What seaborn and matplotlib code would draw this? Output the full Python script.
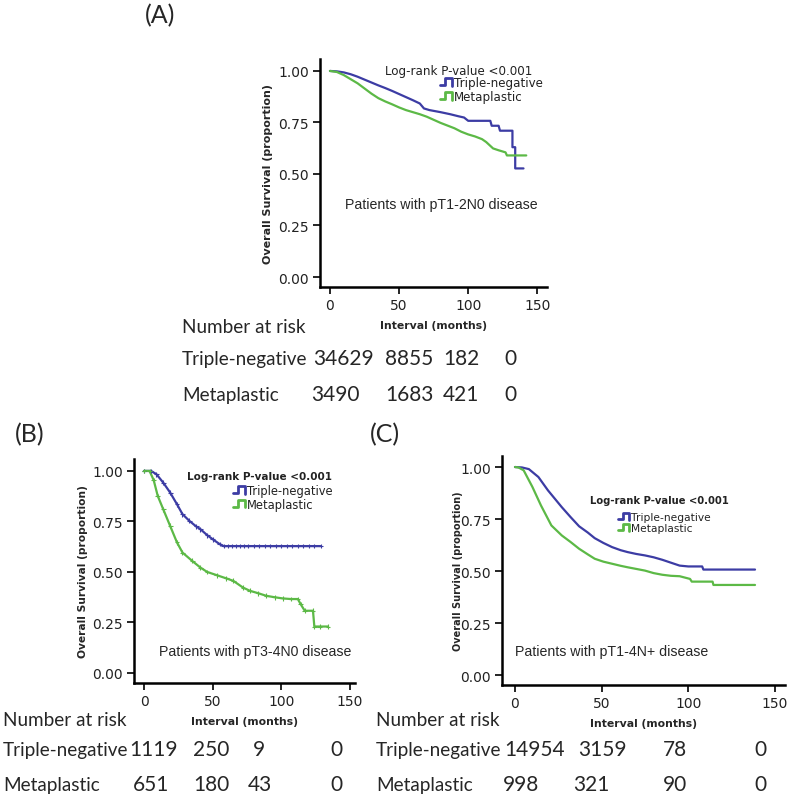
# Survival curves (Kaplan-Meier) - triple-negative vs metaplastic
import numpy as np
import pandas as pd
import matplotlib
matplotlib.use("Agg")
import matplotlib.pyplot as plt
import seaborn as sns
from matplotlib.legend_handler import HandlerBase
from matplotlib.lines import Line2D

# ---- data ----
# (A) pT1-2N0
a_tn_t = [0, 5, 10, 15, 20, 25, 30, 35, 40, 45, 50, 55, 60, 65, 68, 72, 80, 87, 93, 97, 100, 110, 116, 117, 122, 123, 132, 132, 134, 134, 140]
a_tn_s = [1.0, 0.998, 0.993, 0.984, 0.972, 0.958, 0.944, 0.930, 0.917, 0.903, 0.888, 0.873, 0.858, 0.842, 0.818, 0.81, 0.80, 0.79, 0.78, 0.774, 0.758, 0.758, 0.758, 0.734, 0.734, 0.71, 0.71, 0.63, 0.63, 0.527, 0.527]
a_mp_t = [0, 5, 10, 15, 20, 25, 30, 35, 40, 45, 50, 55, 60, 65, 70, 75, 80, 85, 90, 95, 100, 105, 110, 113, 118, 122, 127, 128, 142]
a_mp_s = [1.0, 0.995, 0.98, 0.96, 0.94, 0.915, 0.89, 0.868, 0.852, 0.838, 0.823, 0.81, 0.80, 0.79, 0.778, 0.763, 0.748, 0.735, 0.722, 0.705, 0.692, 0.682, 0.669, 0.655, 0.624, 0.615, 0.605, 0.59, 0.59]

# (B) pT3-4N0
b_tn_t = [0, 5, 9, 14, 19, 24, 28, 33, 38, 41, 46, 50, 55, 58, 61, 64, 67, 70, 73, 76, 80, 84, 88, 92, 96, 100, 104, 108, 112, 116, 120, 124, 128.5]
b_tn_s = [1.0, 1.0, 0.984, 0.942, 0.893, 0.835, 0.786, 0.753, 0.725, 0.712, 0.682, 0.662, 0.638, 0.628, 0.628, 0.628, 0.628, 0.628, 0.628, 0.628, 0.628, 0.628, 0.628, 0.628, 0.628, 0.628, 0.628, 0.628, 0.628, 0.628, 0.628, 0.628, 0.628]
b_mp_t = [0, 4, 7, 10, 14, 19, 24, 28, 35, 41, 46, 53, 60, 65, 72, 77, 83, 89, 95, 101, 107, 112, 114, 117, 123, 124, 128, 134]
b_mp_s = [1.0, 1.0, 0.955, 0.876, 0.81, 0.728, 0.646, 0.596, 0.555, 0.522, 0.5, 0.484, 0.468, 0.456, 0.423, 0.407, 0.395, 0.382, 0.375, 0.369, 0.366, 0.366, 0.341, 0.308, 0.308, 0.23, 0.23, 0.23]

# (C) pT1-4N+
c_tn_t = [0, 4, 8, 13.5, 19, 27, 32, 37, 42, 46, 51, 56, 61, 65, 70, 75, 80, 85, 90, 95, 100, 104, 108, 108.7, 138.5]
c_tn_s = [1.0, 0.998, 0.99, 0.952, 0.888, 0.807, 0.76, 0.715, 0.685, 0.658, 0.635, 0.615, 0.60, 0.591, 0.582, 0.575, 0.566, 0.554, 0.54, 0.526, 0.522, 0.522, 0.522, 0.507, 0.507]
c_mp_t = [0, 2, 5, 10, 15, 21, 27, 32, 37, 42, 46, 51, 56, 61, 65, 70, 75, 80, 85, 90, 95, 101, 102, 114, 114.5, 138.5]
c_mp_s = [1.0, 0.998, 0.984, 0.905, 0.815, 0.719, 0.671, 0.64, 0.607, 0.58, 0.559, 0.545, 0.535, 0.525, 0.518, 0.51, 0.502, 0.49, 0.482, 0.477, 0.475, 0.462, 0.449, 0.449, 0.433, 0.433]

groups = ["Triple-negative", "Metaplastic"]
a_risk_tn = ["34629", "8855", "182", "0"]
a_risk_mp = ["3490", "1683", "421", "0"]
b_risk_tn = ["1119", "250", "9", "0"]
b_risk_mp = ["651", "180", "43", "0"]
c_risk_tn = ["14954", "3159", "78", "0"]
c_risk_mp = ["998", "321", "90", "0"]

xticks = [0, 50, 100, 150]
yticks = [0, 0.25, 0.5, 0.75, 1.0]

BLUE = "#3C3CA4"
GREEN = "#5CB946"
W, H = 789, 804


def fx(px):
    return px / W


def fy(py):
    return 1 - py / H


class StepHandler(HandlerBase):
    # little step icon like in the original legend
    def create_artists(self, legend, orig_handle, xdescent, ydescent, width, height, fontsize, trans):
        x = np.array([0.0, 0.4, 0.4, 0.95, 0.95]) * width - xdescent
        y = np.array([0.1, 0.1, 0.95, 0.95, 0.05]) * height - ydescent
        ln = Line2D(x, y, color=orig_handle.get_color(), lw=2)
        ln.set_transform(trans)
        return [ln]


sns.set_style("ticks")
plt.rcParams["font.family"] = ["DejaVu Sans"]

fig = plt.figure(figsize=(W / 100, H / 100), dpi=100)

panels = [
    dict(rect=(320, 60, 547, 288), xlim=(-7.2, 157), ylim=(-0.0485, 1.058),
         tn=(a_tn_t, a_tn_s), mp=(a_mp_t, a_mp_s), marks=False,
         note="Patients with pT1-2N0 disease", note_xy=(345, 205),
         pval_xy=(385, 72), pval_bold=False, pval_fs=8.6,
         leg_xy=(440, 77), leg_fs=8.6, leg_sp=0.1,
         ylab_x=-0.229, ylab_fs=8.0, label="(A)", label_xy=(145, 16),
         risk=(a_risk_tn, a_risk_mp), risk_x=182,
         risk_cols=[(343, 335), (409, 409), (461, 461), (510, 510)],
         risk_y=(333, 365, 401)),
    dict(rect=(134, 460, 355, 684), xlim=(-7.3, 153.6), ylim=(-0.0495, 1.059),
         tn=(b_tn_t, b_tn_s), mp=(b_mp_t, b_mp_s), marks=True,
         note="Patients with pT3-4N0 disease", note_xy=(159, 652),
         pval_xy=(187, 477), pval_bold=True, pval_fs=7.5,
         leg_xy=(233, 485), leg_fs=8.3, leg_sp=0.05,
         ylab_x=-0.231, ylab_fs=7.7, label="(B)", label_xy=(15, 435),
         risk=(b_risk_tn, b_risk_mp), risk_x=3,
         risk_cols=[(154, 151), (211, 211), (259, 260), (336, 336)],
         risk_y=(726, 756, 791)),
    dict(rect=(502, 457, 785, 686), xlim=(-7.5, 155.8), ylim=(-0.048, 1.053),
         tn=(c_tn_t, c_tn_s), mp=(c_mp_t, c_mp_s), marks=False,
         note="Patients with pT1-4N+ disease", note_xy=(515, 652),
         pval_xy=(590, 501), pval_bold=True, pval_fs=7.2,
         leg_xy=(618, 513), leg_fs=7.7, leg_sp=0.1,
         ylab_x=-0.155, ylab_fs=7.0, label="(C)", label_xy=(370, 435),
         risk=(c_risk_tn, c_risk_mp), risk_x=376,
         risk_cols=[(535, 521), (602, 591), (675, 675), (760, 760)],
         risk_y=(726, 756, 791)),
]

for p in panels:
    l, t, r, b = p["rect"]
    ax = fig.add_axes([fx(l), fy(b), (r - l) / W, (b - t) / H])

    df = pd.concat([
        pd.DataFrame({"time": p["tn"][0], "survival": p["tn"][1], "group": groups[0]}),
        pd.DataFrame({"time": p["mp"][0], "survival": p["mp"][1], "group": groups[1]}),
    ], ignore_index=True)

    sns.lineplot(data=df, x="time", y="survival", hue="group", hue_order=groups,
                 palette=[BLUE, GREEN], estimator=None, sort=False, legend=False,
                 linewidth=1.6, ax=ax)
    if p["marks"]:
        # censoring ticks
        sns.scatterplot(data=df, x="time", y="survival", hue="group", hue_order=groups,
                        palette=[BLUE, GREEN], marker="+", s=12, linewidth=0.8,
                        legend=False, ax=ax, zorder=3)

    ax.set_xlim(*p["xlim"])
    ax.set_ylim(*p["ylim"])
    ax.set_xticks(xticks)
    ax.set_yticks(yticks)
    ax.set_yticklabels([f"{v:.2f}" for v in yticks])
    sns.despine(ax=ax)
    for s in ["left", "bottom"]:
        ax.spines[s].set_linewidth(1.8)
        ax.spines[s].set_color("black")
    ax.tick_params(length=5, width=1.2, labelsize=10, pad=3, colors="black")
    for lab in ax.get_xticklabels() + ax.get_yticklabels():
        lab.set_color("#222222")

    ax.set_xlabel("Interval (months)", fontsize=7.8, fontweight="bold")
    ax.xaxis.label.set_va("center")
    ax.xaxis.set_label_coords(0.5, -38 / (b - t))
    ax.set_ylabel("Overall Survival (proportion)", fontsize=p["ylab_fs"], fontweight="bold")
    ax.yaxis.label.set_va("center")
    ax.yaxis.set_label_coords(p["ylab_x"], 0.5)

    # p-value and legend
    fig.text(fx(p["pval_xy"][0]), fy(p["pval_xy"][1]), "Log-rank P-value <0.001",
             fontsize=p["pval_fs"], fontweight="bold" if p["pval_bold"] else "normal",
             ha="left", va="center", color="#222222")
    handles = [Line2D([], [], color=BLUE), Line2D([], [], color=GREEN)]
    ax.legend(handles, groups, handler_map={Line2D: StepHandler()},
              loc="upper left", bbox_to_anchor=(fx(p["leg_xy"][0]), fy(p["leg_xy"][1])),
              bbox_transform=fig.transFigure, frameon=False, fontsize=p["leg_fs"],
              handlelength=1.1, handletextpad=0.1, labelspacing=p["leg_sp"],
              borderpad=0, borderaxespad=0, labelcolor="#222222")

    fig.text(fx(p["note_xy"][0]), fy(p["note_xy"][1]), p["note"],
             fontsize=10.2, family="Liberation Sans", ha="left", va="center")

    # panel letter
    fig.text(fx(p["label_xy"][0]), fy(p["label_xy"][1]), p["label"],
             fontsize=18, family="Lato", ha="left", va="center")

    # number at risk table
    y0, y1, y2 = p["risk_y"]
    for yy, txt in zip((y0, y1, y2), ["Number at risk"] + groups):
        fig.text(fx(p["risk_x"]), fy(yy), txt, fontsize=13.6, family="Lato",
                 ha="left", va="baseline")
    for (cx_tn, cx_mp), v_tn, v_mp in zip(p["risk_cols"], p["risk"][0], p["risk"][1]):
        fig.text(fx(cx_tn), fy(y1), v_tn, fontsize=15, family="Lato", ha="center", va="baseline")
        fig.text(fx(cx_mp), fy(y2), v_mp, fontsize=15, family="Lato", ha="center", va="baseline")

fig.savefig("out.png", dpi=100)
plt.close(fig)
